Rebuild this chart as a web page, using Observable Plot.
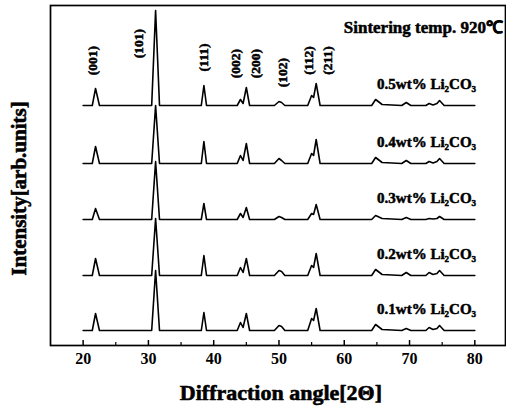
<!DOCTYPE html>
<html><head><meta charset="utf-8">
<script src="https://cdn.jsdelivr.net/npm/d3@7"></script>
<script src="https://cdn.jsdelivr.net/npm/@observablehq/plot@0.6"></script>
<style>body{margin:0;background:#fff}</style>
</head><body><div id="chart"></div>
<script>
// 2θ sample points
const angles = [20, 21.4, 21.9, 22.5, 30.5, 31.1, 31.7, 38.1, 38.5, 38.9,
  43.6, 44.1, 44.5, 45.0, 45.5, 49.3, 50.0, 50.4, 50.9, 54.4, 55.0, 55.3, 55.7, 56.3,
  64.2, 64.8, 65.8, 68.8, 69.5, 70.2, 72.5, 73.0, 73.6, 74.2, 74.6, 75.3, 80];
const samples = ["0.5wt% Li₂CO₃", "0.4wt% Li₂CO₃", "0.3wt% Li₂CO₃", "0.2wt% Li₂CO₃", "0.1wt% Li₂CO₃"];
const offsets = [240, 182, 126, 70, 15];
const int05 = [0,0,17,0, 0,95,0, 0,20,0, 0,6,2,18,0, 0,4,3,0, 0,10,8,22,0, 0,6,1, 0,3,0, 0,2,0.5,2,5,0, 0];
const int04 = [0,0,17,0, 0,58,0, 0,22,0, 0,8,3,20,0, 0,5,3,0, 0,10,8,24,0, 0,6,1, 0,3,0, 0,2,0.5,2,5,0, 0];
const int03 = [0,0,11,0, 0,58,0, 0,16,0, 0,6,2,12,0, 0,3,2,0, 0,6,5,15,0, 0,4,1, 0,2,0, 0,1,0.5,1,3,0, 0];
const int02 = [0,0,17,0, 0,57,0, 0,20,0, 0,8,3,17,0, 0,5,4,0, 0,10,8,22,0, 0,6,1, 0,3,0, 0,3,1,2,5,0, 0];
const int01 = [0,0,17,0, 0,60,0, 0,18,0, 0,8,3,17,0, 0,5,4,0, 0,12,10,22,0, 0,6,1, 0,2,0, 0,3,1,2,5,0, 0];
const intensities = [int05, int04, int03, int02, int01];

const hkl = ["(001)", "(101)", "(111)", "(002)", "(200)", "(102)", "(112)", "(211)"];
const hklAngle = [21.4, 28.5, 38.5, 43.4, 46.5, 50.6, 54.6, 57.5];
const hklY = [285, 302, 288, 282, 282, 273, 285, 285];

const xTicks = [20, 30, 40, 50, 60, 70, 80];
const xMinor = [25, 35, 45, 55, 65, 75];
const title = "Sintering temp. 920℃";
const xTitle = "Diffraction angle[2Θ]";
const yTitle = "Intensity[arb.units]";

const rows = [];
samples.forEach((s, i) => angles.forEach((a, j) => rows.push({sample: s, x: a, y: offsets[i] + intensities[i][j]})));
const labels = samples.map((s, i) => ({s, y: offsets[i] + 21}));
const hklRows = hkl.map((h, i) => ({h, x: hklAngle[i], y: hklY[i]}));
const heavy = {fontWeight: "bold", fill: "black", stroke: "black", strokeWidth: 0.5};

const chart = Plot.plot({
  width: 506, height: 415,
  marginLeft: 50, marginRight: 1, marginTop: 5, marginBottom: 70,
  x: {domain: [15, 84.7]},
  y: {domain: [0, 340], axis: null},
  style: {fontFamily: "'Liberation Serif', serif", fontWeight: "bold", color: "black", background: "white", overflow: "visible"},
  marks: [
    Plot.line(rows, {x: "x", y: "y", z: "sample", stroke: "black", strokeWidth: 1.6, strokeLinejoin: "round"}),
    Plot.ruleX(xTicks, {y1: 0, y2: 5, stroke: "black", strokeWidth: 1.5}),
    Plot.ruleX(xMinor, {y1: 0, y2: 3, stroke: "black", strokeWidth: 1.2}),
    Plot.axisX({ticks: xTicks, tickSize: 0, tickPadding: 7, fontSize: 16, label: null, ...heavy, strokeWidth: 0.4}),
    Plot.frame({stroke: "black", strokeWidth: 1.7}),
    Plot.text(labels, {x: 80.2, y: "y", text: "s", textAnchor: "end", fontSize: 15, ...heavy}),
    Plot.text(hklRows, {x: "x", y: "y", text: "h", rotate: -90, fontSize: 13.5, ...heavy}),
    Plot.text([title], {x: 84.3, y: 318, textAnchor: "end", fontSize: 17, ...heavy}),
    Plot.text([xTitle], {x: 50.3, y: -47, fontSize: 22, ...heavy, strokeWidth: 0.6}),
    Plot.text([yTitle], {x: 10.2, y: 157, rotate: -90, fontSize: 21, ...heavy, strokeWidth: 0.6})
  ]
});
document.getElementById("chart").append(chart);
</script>
</body></html>
